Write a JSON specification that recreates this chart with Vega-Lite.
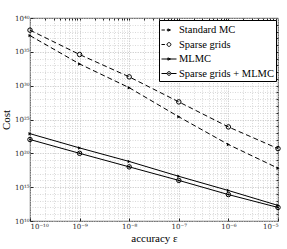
{
  "$schema": "https://vega.github.io/schema/vega-lite/v6.json",
  "autosize": "none",
  "width": 248,
  "height": 203,
  "padding": {"left": 30, "top": 18, "right": 9, "bottom": 28},
  "background": "white",
  "config": {
    "view": {"stroke": "#262626", "strokeWidth": 0.8},
    "font": "Liberation Serif",
    "legend": {"labelFont": "Liberation Serif"},
    "axis": {"domain": false, "labelFont": "DejaVu Serif", "titleFont": "Liberation Serif", "labelColor": "#262626", "titleColor": "#000", "labelFontSize": 7, "titleFontSize": 11, "titleFontWeight": "normal", "gridColor": "#c8c8c8", "gridDash": [1, 1.5], "gridWidth": 0.7, "tickColor": "#262626", "tickSize": -3}
  },
  "data": {"values": [
    {"series": "Standard MC", "eps": 1e-10, "cost": 2.5e37},
    {"series": "Standard MC", "eps": 1e-9, "cost": 1.6e33},
    {"series": "Standard MC", "eps": 1e-8, "cost": 5e29},
    {"series": "Standard MC", "eps": 1e-7, "cost": 2.5e25},
    {"series": "Standard MC", "eps": 1e-6, "cost": 2e21},
    {"series": "Standard MC", "eps": 1e-5, "cost": 6.3e17},
    {"series": "Sparse grids", "eps": 1e-10, "cost": 1.6e38},
    {"series": "Sparse grids", "eps": 1e-9, "cost": 4e34},
    {"series": "Sparse grids", "eps": 1e-8, "cost": 2e31},
    {"series": "Sparse grids", "eps": 1e-7, "cost": 4e27},
    {"series": "Sparse grids", "eps": 1e-6, "cost": 8e23},
    {"series": "Sparse grids", "eps": 1e-5, "cost": 5e20},
    {"series": "MLMC", "eps": 1e-10, "cost": 8e22},
    {"series": "MLMC", "eps": 1e-9, "cost": 6.3e20},
    {"series": "MLMC", "eps": 1e-8, "cost": 6.3e18},
    {"series": "MLMC", "eps": 1e-7, "cost": 4e16},
    {"series": "MLMC", "eps": 1e-6, "cost": 3.2e14},
    {"series": "MLMC", "eps": 1e-5, "cost": 2e12},
    {"series": "Sparse grids + MLMC", "eps": 1e-10, "cost": 1.1e22},
    {"series": "Sparse grids + MLMC", "eps": 1e-9, "cost": 1e20},
    {"series": "Sparse grids + MLMC", "eps": 1e-8, "cost": 1e18},
    {"series": "Sparse grids + MLMC", "eps": 1e-7, "cost": 1e16},
    {"series": "Sparse grids + MLMC", "eps": 1e-6, "cost": 8e13},
    {"series": "Sparse grids + MLMC", "eps": 1e-5, "cost": 1e12}
  ]},
  "resolve": {"axis": {"x": "independent", "y": "independent"}},
  "layer": [
    {
      "transform": [{"filter": "datum.series == 'Standard MC' || datum.series == 'Sparse grids'"}],
      "mark": {"type": "line", "color": "#000", "strokeWidth": 1, "strokeDash": [5, 3]},
      "encoding": {
        "x": {"field": "eps", "type": "quantitative", "scale": {"type": "log", "domain": [1e-10, 1e-5]},
          "axis": {"orient": "bottom", "grid": true, "title": "accuracy ε", "values": [1e-10, 1e-9, 1e-8, 1e-7, 1e-6, 1e-5], "labelPadding": 4, "titlePadding": 3,
            "labelExpr": "datum.value < 5e-10 ? '10⁻¹⁰' : datum.value < 5e-9 ? '10⁻⁹' : datum.value < 5e-8 ? '10⁻⁸' : datum.value < 5e-7 ? '10⁻⁷' : datum.value < 5e-6 ? '10⁻⁶' : '10⁻⁵'"}},
        "y": {"field": "cost", "type": "quantitative", "scale": {"type": "log", "domain": [1e10, 1e40]},
          "axis": {"orient": "left", "grid": true, "title": "Cost", "values": [1e10, 1e15, 1e20, 1e25, 1e30, 1e35, 1e40], "labelPadding": 4, "titlePadding": 3,
            "labelExpr": "datum.value < 1e12 ? '10¹⁰' : datum.value < 1e17 ? '10¹⁵' : datum.value < 1e22 ? '10²⁰' : datum.value < 1e27 ? '10²⁵' : datum.value < 1e32 ? '10³⁰' : datum.value < 1e37 ? '10³⁵' : '10⁴⁰'"}},
        "detail": {"field": "series"}
      }
    },
    {
      "transform": [{"filter": "datum.series == 'MLMC' || datum.series == 'Sparse grids + MLMC'"}],
      "mark": {"type": "line", "color": "#000", "strokeWidth": 1},
      "encoding": {
        "x": {"field": "eps", "type": "quantitative", "axis": null},
        "y": {"field": "cost", "type": "quantitative", "axis": null},
        "detail": {"field": "series"}
      }
    },
    {
      "transform": [{"filter": "datum.series == 'Standard MC' || datum.series == 'MLMC'"}],
      "mark": {"type": "point", "shape": "triangle-right", "filled": true, "color": "#000", "size": 12, "opacity": 1},
      "encoding": {
        "x": {"field": "eps", "type": "quantitative", "scale": {"type": "log", "domain": [1e-10, 1e-5]},
          "axis": {"orient": "top", "grid": true, "title": null, "labels": false, "tickSize": -2,
            "values": [2e-10, 3e-10, 4e-10, 5e-10, 6e-10, 7e-10, 8e-10, 9e-10, 1e-9, 2e-9, 3e-9, 4e-9, 5e-9, 6e-9, 7e-9, 8e-9, 9e-9, 1e-8, 2e-8, 3e-8, 4e-8, 5e-8, 6e-8, 7e-8, 8e-8, 9e-8, 1e-7, 2e-7, 3e-7, 4e-7, 5e-7, 6e-7, 7e-7, 8e-7, 9e-7, 1e-6, 2e-6, 3e-6, 4e-6, 5e-6, 6e-6, 7e-6, 8e-6, 9e-6]}},
        "y": {"field": "cost", "type": "quantitative", "scale": {"type": "log", "domain": [1e10, 1e40]},
          "axis": {"orient": "right", "grid": true, "title": null, "labels": false, "tickSize": -2,
            "values": [1e11, 1e12, 1e13, 1e14, 1e15, 1e16, 1e17, 1e18, 1e19, 1e20, 1e21, 1e22, 1e23, 1e24, 1e25, 1e26, 1e27, 1e28, 1e29, 1e30, 1e31, 1e32, 1e33, 1e34, 1e35, 1e36, 1e37, 1e38, 1e39]}}
      }
    },
    {
      "transform": [{"filter": "datum.series == 'Sparse grids' || datum.series == 'Sparse grids + MLMC'"}],
      "mark": {"type": "point", "shape": "circle", "filled": false, "color": "#000", "size": 20, "strokeWidth": 1, "opacity": 1},
      "encoding": {
        "x": {"field": "eps", "type": "quantitative", "axis": null},
        "y": {"field": "cost", "type": "quantitative", "axis": null}
      }
    },
    {
      "transform": [{"filter": "datum.series == 'Sparse grids + MLMC'"}],
      "mark": {"type": "point", "shape": "circle", "filled": true, "color": "#000", "size": 4, "opacity": 1},
      "encoding": {
        "x": {"field": "eps", "type": "quantitative", "axis": null},
        "y": {"field": "cost", "type": "quantitative", "axis": null}
      }
    },
    {
      "transform": [{"filter": "datum.series == 'none'"}],
      "mark": {"type": "point", "filled": false, "color": "#000", "strokeWidth": 1, "opacity": 1},
      "encoding": {
        "x": {"field": "eps", "type": "quantitative", "axis": null},
        "y": {"field": "cost", "type": "quantitative", "axis": null},
        "shape": {"field": "series", "type": "nominal",
          "scale": {"domain": ["Standard MC", "Sparse grids", "MLMC", "Sparse grids + MLMC"],
            "range": [
              "M-1,0H-0.55M-0.3,0H0.1M-0.15,-0.15L0.2,0L-0.15,0.15Z",
              "M-1,0H-0.55M-0.3,0H-0.25M0.25,0A0.25,0.25 0 1,1 -0.25,0A0.25,0.25 0 1,1 0.25,0",
              "M-1,0H1M-0.15,-0.15L0.2,0L-0.15,0.15Z",
              "M-1,0H-0.25M0.25,0H1M0.25,0A0.25,0.25 0 1,1 -0.25,0A0.25,0.25 0 1,1 0.25,0M0.08,0A0.08,0.08 0 1,1 -0.08,0A0.08,0.08 0 1,1 0.08,0"
            ]},
          "legend": {"title": null, "orient": "top-right", "offset": 2, "fillColor": "white", "strokeColor": "#000", "padding": 2,
            "symbolSize": 225, "symbolOpacity": 1, "symbolStrokeColor": "#000", "symbolStrokeWidth": 1, "symbolFillColor": "transparent",
            "labelFont": "Liberation Serif", "labelFontSize": 10.5, "labelColor": "#000", "labelOffset": 2, "rowPadding": 0.5}
        }
      }
    }
  ]
}
